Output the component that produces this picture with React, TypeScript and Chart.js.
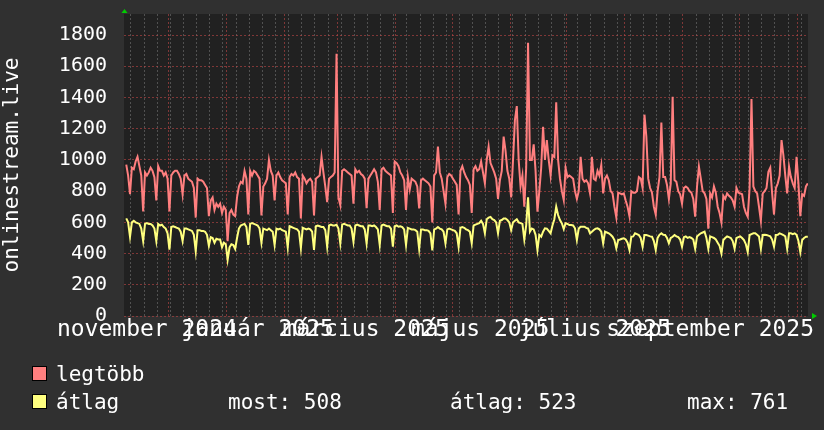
import React, { useEffect, useRef } from 'react';
import { Chart, registerables } from 'chart.js';

Chart.register(...registerables);

// Day index (days since 2024-11-01) of the first daily sample
const FIRST_DAY = 7;
const X_MIN = 6.3;
const X_MAX = 370.6;
const Y_MAX = 1935;

// "legtöbb" (daily maximum)
const maxValues = [
  970, 900, 780,
  950, 940, 990, 1020, 960, 900, 670,
  920, 900, 920, 950, 930, 890, 740,
  960, 930, 930, 900, 920, 880, 670,
  900, 920, 930, 930, 910, 880, 780,
  900, 910, 880, 870, 860, 820, 630,
  880, 870, 870, 860, 840, 820, 640,
  740, 760, 680, 720, 700, 720, 660,
  700, 680, 480, 660, 680, 650, 640,
  760, 830, 860, 850, 930, 880, 650,
  930, 900, 930, 920, 900, 880, 645,
  830, 850, 880, 1000, 930, 900, 740,
  900, 920, 890, 870, 860, 850, 650,
  890, 910, 900, 920, 890, 880, 625,
  900, 880, 850, 870, 880, 860, 645,
  880, 890, 900, 1020, 920, 830, 730,
  880, 890, 900, 920, 1680, 760, 710,
  930, 940, 930, 920, 910, 900, 720,
  940, 920, 930, 910, 900, 880, 690,
  880, 900, 920, 940, 920, 860, 680,
  940, 950, 930, 920, 910, 900, 660,
  990, 980, 960, 920, 900, 870, 680,
  890, 810, 880, 870, 860, 830, 690,
  870, 880, 870, 860, 850, 830, 600,
  900, 920, 1085, 920, 880, 800, 720,
  890, 910, 900, 880, 860, 840, 650,
  930, 960, 920, 890, 870, 840, 660,
  940, 960, 930, 940, 990, 920, 850,
  1000, 1085, 980, 950, 920, 880, 750,
  870, 930, 1149, 1060, 930, 880, 760,
  1000, 1255, 1345, 1000, 830, 900, 700,
  950, 1750, 1000, 1000, 1100, 930, 668,
  800, 950, 1213, 1000, 1127, 1000, 900,
  1030, 1020, 1370, 1000, 880, 800, 743,
  948, 890, 900, 890, 880, 800, 750,
  800, 1020, 880, 860, 870, 850, 786,
  1020, 880, 870, 930, 900, 967, 786,
  880, 900, 870, 800, 786, 700, 632,
  790, 786, 780, 786, 740, 700, 640,
  800, 790, 790, 800, 890, 880, 820,
  1290, 1149, 880, 820, 790, 700, 650,
  800, 890, 1240, 890, 890, 840, 750,
  850, 1405, 871, 860, 800, 780, 720,
  820, 830, 820, 800, 790, 750, 636,
  830, 957, 880, 800, 786, 750, 560,
  786, 760, 830, 790, 700, 660, 600,
  770, 750, 786, 770, 760, 740, 700,
  820, 790, 786, 780, 700, 660, 636,
  820, 1390, 830, 800, 786, 700, 610,
  786, 800, 820, 924, 950, 786, 650,
  820, 850, 900, 1127, 1030, 900, 786,
  957, 890, 850, 820, 1020, 850, 640,
  780, 770, 830, 850,
];

// "átlag" (daily average)
const avgValues = [
  626, 600, 508,
  600, 610, 600, 595, 590, 560, 480,
  590, 595, 590, 590, 580, 560, 480,
  590, 580, 585, 570, 560, 530, 425,
  570, 575, 570, 565, 560, 540, 480,
  560, 560, 555, 550, 545, 520, 415,
  550, 550, 545, 545, 540, 520, 450,
  505, 500, 470, 495, 490, 490, 440,
  470, 460, 360, 440, 460, 455, 430,
  500, 560, 580, 585, 590, 570, 455,
  590, 595, 590, 585, 580, 560, 470,
  560, 555, 550, 560, 550, 540, 455,
  560, 555, 560, 550, 545, 540, 440,
  575, 570, 565, 560, 555, 540, 435,
  565, 560, 555, 560, 555, 540, 423,
  575, 580, 575, 570, 570, 550, 445,
  580, 585, 580, 580, 585, 560, 465,
  585, 590, 585, 580, 580, 560, 476,
  580, 585, 580, 575, 575, 555, 465,
  580, 580, 575, 580, 570, 555, 455,
  580, 585, 580, 575, 575, 560, 444,
  575, 580, 572, 575, 570, 555, 455,
  565, 560, 555, 555, 550, 540, 430,
  555, 555, 550, 550, 545, 530, 420,
  555, 560, 570, 560, 555, 540, 466,
  555, 560, 555, 550, 545, 530, 445,
  565, 570, 565, 555, 550, 540, 466,
  580, 585, 590, 595, 610, 590, 530,
  620, 630, 635, 620, 615, 600, 530,
  610, 615, 625, 625, 615, 600, 551,
  600, 610, 620, 600, 595, 590, 490,
  580, 761, 540, 560, 555, 520, 423,
  520, 508, 540, 562, 560, 545, 530,
  580, 620, 700, 647, 615, 594, 557,
  594, 590, 583, 583, 580, 562, 487,
  560, 572, 572, 572, 565, 560, 530,
  540, 551, 560, 562, 555, 540, 466,
  540, 535, 530, 520, 508, 487, 434,
  487, 490, 495, 498, 490, 470, 423,
  508, 510, 530, 525, 519, 500, 444,
  519, 519, 515, 510, 508, 480, 423,
  500, 520, 530, 520, 519, 500, 466,
  500, 508, 519, 510, 505, 490, 444,
  505, 510, 500, 505, 500, 490, 431,
  510, 520, 530, 535, 540, 500, 431,
  510, 505, 500, 490, 470, 450, 401,
  487, 500, 510, 505, 500, 480, 431,
  500, 505, 510, 500, 487, 460, 410,
  519, 525, 530, 530, 520, 510, 431,
  519, 520, 519, 515, 510, 490, 444,
  519, 520, 530, 525, 519, 510, 431,
  530, 530, 525, 530, 520, 480, 410,
  487, 500, 508, 508,
];

// Month starts (days since 2024-11-01) -> major grid
const monthStarts = [0, 30, 61, 92, 120, 151, 181, 212, 242, 273, 304, 334, 365];
// First Monday (2024-11-11) -> minor weekly grid
const FIRST_MONDAY = 10;
// X-axis labels, centred mid-month
const xLabels = ['november 2024', 'január 2025', 'március 2025', 'május 2025', 'július 2025', 'szeptember 2025'];
const xLabelDays = [18.5, 77.5, 135, 196, 257, 318.5];
// Y ticks
const yTickStep = 100;
const yLabelStep = 200;

const seriesNames = ['legtöbb', 'átlag'];
const seriesColors = ['#ff7f7f', '#ffff7f'];
const statTexts = ['most: 508', 'átlag: 523', 'max: 761'];

const FONT = 'DejaVu Sans Mono';
const MINOR = 'rgba(140,140,140,0.45)';
const MAJOR = 'rgba(190,70,70,0.6)';

export default function App() {
  const ref = useRef<HTMLCanvasElement | null>(null);

  useEffect(() => {
    document.body.style.margin = '0';
    const canvas = ref.current;
    if (!canvas) return;

    const weekly: number[] = [];
    for (let d = FIRST_MONDAY; d <= X_MAX; d += 7) {
      if (!monthStarts.includes(d)) weekly.push(d);
    }
    const monthsIn = monthStarts.filter((d) => d >= X_MIN && d <= X_MAX);
    const xTickValues = [...weekly, ...monthsIn, ...xLabelDays].sort((a, b) => a - b);
    const yTickValues: number[] = [];
    for (let v = 0; v <= Y_MAX; v += yTickStep) yTickValues.push(v);

    const bgPlugin = {
      id: 'rrdBg',
      beforeDraw(chart: any) {
        const { ctx, chartArea } = chart;
        ctx.save();
        ctx.fillStyle = '#303030';
        ctx.fillRect(0, 0, chart.width, chart.height);
        ctx.fillStyle = '#212121';
        ctx.fillRect(chartArea.left, chartArea.top, chartArea.right - chartArea.left, chartArea.bottom - chartArea.top);
        ctx.restore();
      },
      afterDraw(chart: any) {
        const { ctx, chartArea } = chart;
        ctx.save();
        ctx.fillStyle = '#00cc00';
        const l = chartArea.left;
        const t = chartArea.top;
        ctx.beginPath();
        ctx.moveTo(l - 2.5, t - 1);
        ctx.lineTo(l + 3.5, t - 1);
        ctx.lineTo(l + 0.5, t - 5);
        ctx.closePath();
        ctx.fill();
        const r = chartArea.right;
        const b = chartArea.bottom;
        ctx.beginPath();
        ctx.moveTo(r + 4, b - 3);
        ctx.lineTo(r + 4, b + 3);
        ctx.lineTo(r + 9, b);
        ctx.closePath();
        ctx.fill();
        ctx.restore();
      },
    };

    const mk = (vals: number[]) => vals.map((v, i) => ({ x: FIRST_DAY + i + 0.5, y: v }));

    const chart = new Chart(canvas, {
      type: 'line',
      data: {
        datasets: [
          { label: seriesNames[0], data: mk(maxValues), borderColor: seriesColors[0], borderWidth: 2, pointRadius: 0, tension: 0, fill: false },
          { label: seriesNames[1], data: mk(avgValues), borderColor: seriesColors[1], borderWidth: 2, pointRadius: 0, tension: 0, fill: false },
        ],
      },
      options: {
        responsive: false,
        animation: false,
        devicePixelRatio: 1,
        events: [],
        layout: { padding: { top: 14, right: 16, left: 0, bottom: 0 } },
        plugins: { legend: { display: false }, tooltip: { enabled: false } },
        scales: {
          x: {
            type: 'linear',
            min: X_MIN,
            max: X_MAX,
            afterBuildTicks: (s: any) => {
              s.ticks = xTickValues.map((v) => ({ value: v }));
            },
            afterFit: (s: any) => {
              s.height = 114;
              s.paddingLeft = 0;
              s.paddingRight = 0;
            },
            grid: {
              drawTicks: false,
              lineWidth: 1,
              color: (c: any) => {
                const v = c.tick ? c.tick.value : null;
                if (v === null) return 'rgba(0,0,0,0)';
                if (monthStarts.includes(v)) return MAJOR;
                if (xLabelDays.includes(v)) return 'rgba(0,0,0,0)';
                return MINOR;
              },
            },
            border: { display: false, dash: [2, 2] },
            ticks: {
              autoSkip: false,
              maxRotation: 0,
              minRotation: 0,
              padding: 0,
              color: '#ffffff',
              font: { family: FONT, size: 23 },
              callback: (v: any) => {
                const i = xLabelDays.indexOf(Number(v));
                return i >= 0 ? xLabels[i] : '';
              },
            },
          },
          y: {
            type: 'linear',
            min: 0,
            max: Y_MAX,
            afterBuildTicks: (s: any) => {
              s.ticks = yTickValues.map((v) => ({ value: v }));
            },
            afterFit: (s: any) => {
              s.width = 124;
              s.paddingTop = 0;
              s.paddingBottom = 0;
            },
            grid: {
              drawTicks: false,
              lineWidth: 1,
              color: (c: any) => (c.tick && c.tick.value % yLabelStep === 0 ? MAJOR : MINOR),
            },
            border: { display: false, dash: [2, 2] },
            ticks: {
              padding: 17,
              color: '#ffffff',
              font: { family: FONT, size: 20 },
              callback: (v: any) => (Number(v) % yLabelStep === 0 ? String(v) : ''),
            },
            title: {
              display: true,
              text: 'onlinestream.live',
              color: '#ffffff',
              font: { family: FONT, size: 21 },
              padding: { top: 0, bottom: 0 },
            },
          },
        },
      },
      plugins: [bgPlugin],
    } as any);

    return () => chart.destroy();
  }, []);

  const textStyle: React.CSSProperties = {
    position: 'absolute',
    fontFamily: FONT,
    fontSize: 21,
    lineHeight: '24px',
    color: '#ffffff',
    whiteSpace: 'pre',
  };
  const sq = (top: number, color: string): React.CSSProperties => ({
    position: 'absolute',
    left: 32,
    top,
    width: 15,
    height: 15,
    boxSizing: 'border-box',
    border: '1px solid #000',
    background: color,
  });

  return (
    <div style={{ position: 'relative', width: 824, height: 430, background: '#303030', overflow: 'hidden' }}>
      <canvas ref={ref} width={824} height={430} style={{ position: 'absolute', left: 0, top: 0, width: 824, height: 430 }} />
      <div style={sq(366, seriesColors[0])} />
      <div style={{ ...textStyle, left: 56, top: 362 }}>{seriesNames[0]}</div>
      <div style={sq(394, seriesColors[1])} />
      <div style={{ ...textStyle, left: 56, top: 390 }}>{seriesNames[1]}</div>
      <div style={{ ...textStyle, left: 228, top: 390 }}>{statTexts[0]}</div>
      <div style={{ ...textStyle, left: 450, top: 390 }}>{statTexts[1]}</div>
      <div style={{ ...textStyle, left: 687, top: 390 }}>{statTexts[2]}</div>
    </div>
  );
}
